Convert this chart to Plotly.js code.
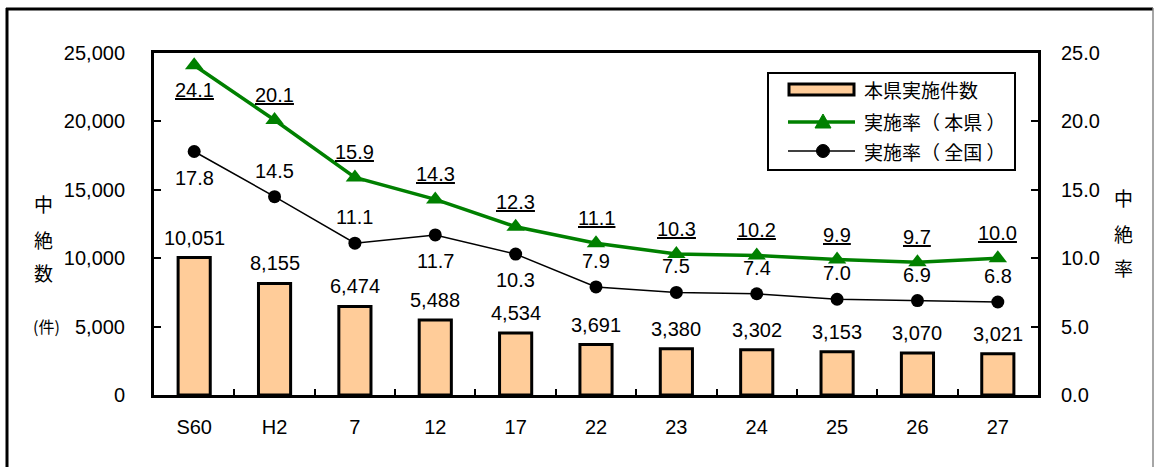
<!DOCTYPE html>
<html>
<head>
<meta charset="utf-8">
<script src="https://cdn.plot.ly/plotly-3.0.1.min.js"></script>
<style>html,body{margin:0;padding:0;background:#fff;}#chart{width:1154px;height:467px;}</style>
</head>
<body>
<div id="chart"></div>
<script>
// ---- data ----
const categories = ['S60','H2','7','12','17','22','23','24','25','26','27'];
const counts     = [10051, 8155, 6474, 5488, 4534, 3691, 3380, 3302, 3153, 3070, 3021];
const rateKen    = [24.1, 20.1, 15.9, 14.3, 12.3, 11.1, 10.3, 10.2, 9.9, 9.7, 10.0];
const rateZen    = [17.8, 14.5, 11.1, 11.7, 10.3, 7.9, 7.5, 7.4, 7.0, 6.9, 6.8];
const seriesNames = ['本県実施件数', '実施率（本県）', '実施率（全国）'];
const countTicks = [0, 5000, 10000, 15000, 20000, 25000];
const rateTicks  = [0, 5, 10, 15, 20, 25];

// label placement (style, not data): 1 = above, -1 = below
const kenLabelSide = [-1, 1, 1, 1, 1, 1, 1, 1, 1, 1, 1];
const zenLabelSide = [-1, 1, 1, -1, -1, 1, 1, 1, 1, 1, 1];

const FONT = 'Liberation Sans, Arial, "Noto Sans CJK JP", sans-serif';
const CJK = '"Noto Sans CJK JP", sans-serif';
const GREEN = '#008000';
const PEACH = '#FFCC99';

// plot area in pixels
const W = 1154, H = 467;
const L = 154, R = 1038, T = 53, B = 395;
const px = x => (x - L) / (R - L);
const py = y => (B - y) / (B - T);

const traces = [
  {
    type: 'bar', x: categories, y: counts, name: seriesNames[0],
    width: 0.4,
    marker: {color: PEACH, line: {color: '#000', width: 3}},
    hoverinfo: 'x+y', showlegend: false
  },
  {
    type: 'scatter', mode: 'lines+markers', x: categories, y: rateKen, yaxis: 'y2',
    name: seriesNames[1],
    line: {color: GREEN, width: 3.5},
    marker: {symbol: 'triangle-up', size: 16, color: GREEN},
    showlegend: false
  },
  {
    type: 'scatter', mode: 'lines+markers', x: categories, y: rateZen, yaxis: 'y2',
    name: seriesNames[2],
    line: {color: '#000', width: 1.5},
    marker: {symbol: 'circle', size: 13, color: '#000'},
    showlegend: false
  }
];

const annotations = [];
const lblFont = {family: FONT, size: 20, color: '#000'};
categories.forEach((c, i) => {
  annotations.push({
    x: i, y: counts[i], xref: 'x', yref: 'y',
    text: counts[i].toLocaleString('en-US'),
    showarrow: false, yanchor: 'middle', yshift: 20, font: lblFont
  });
  annotations.push({
    x: i, y: rateKen[i], xref: 'x', yref: 'y2',
    text: '<u>' + rateKen[i].toFixed(1) + '</u>',
    showarrow: false, yanchor: 'middle', yshift: 25 * kenLabelSide[i], font: lblFont
  });
  annotations.push({
    x: i, y: rateZen[i], xref: 'x', yref: 'y2',
    text: rateZen[i].toFixed(1),
    showarrow: false, yanchor: 'middle', yshift: 26 * zenLabelSide[i], font: lblFont
  });
});

// axis titles (vertical stacked characters)
const titleFont = {family: CJK, size: 19, color: '#000'};
[['中', 203], ['絶', 239], ['数', 272]].forEach(([ch, y]) => {
  annotations.push({x: px(43), y: py(y), xref: 'paper', yref: 'paper', text: ch,
    showarrow: false, xanchor: 'center', yanchor: 'middle', font: titleFont});
});
annotations.push({x: px(46), y: py(326), xref: 'paper', yref: 'paper', text: '(件)',
  showarrow: false, xanchor: 'center', yanchor: 'middle',
  font: {family: CJK, size: 16, color: '#000'}});
[['中', 198], ['絶', 233], ['率', 267]].forEach(([ch, y]) => {
  annotations.push({x: px(1123), y: py(y), xref: 'paper', yref: 'paper', text: ch,
    showarrow: false, xanchor: 'center', yanchor: 'middle', font: titleFont});
});

// custom legend text
const legRows = [89, 122, 151];
seriesNames.forEach((n, i) => {
  annotations.push({x: px(862), y: py(legRows[i]), xref: 'paper', yref: 'paper',
    text: n.replace('（', '（ ').replace('）', ' ）'),
    showarrow: false, xanchor: 'left', yanchor: 'middle',
    font: {family: CJK, size: 19, color: '#000'}});
});

const shapes = [
  // outer frame
  {type: 'line', xref: 'paper', yref: 'paper', x0: px(6), x1: px(1153), y0: py(9), y1: py(9), line: {color: '#000', width: 3}},
  {type: 'line', xref: 'paper', yref: 'paper', x0: px(7), x1: px(7), y0: py(8), y1: py(480), line: {color: '#000', width: 3}},
  {type: 'line', xref: 'paper', yref: 'paper', x0: px(1153), x1: px(1153), y0: py(8), y1: py(480), line: {color: '#888', width: 1.5}},
  // legend box
  {type: 'rect', xref: 'paper', yref: 'paper', x0: px(768), x1: px(1015), y0: py(73), y1: py(170),
    line: {color: '#000', width: 2}, fillcolor: '#fff'},
  // legend bar symbol
  {type: 'rect', xref: 'paper', yref: 'paper', x0: px(789), x1: px(854), y0: py(84), y1: py(95),
    line: {color: '#000', width: 3}, fillcolor: PEACH},
  // green line symbol
  {type: 'line', xref: 'paper', yref: 'paper', x0: px(788), x1: px(855), y0: py(122), y1: py(122),
    line: {color: GREEN, width: 3.5}},
  {type: 'path', xref: 'paper', yref: 'paper',
    path: `M${px(823)},${py(114)} L${px(831)},${py(128)} L${px(815)},${py(128)} Z`,
    line: {color: GREEN, width: 1}, fillcolor: GREEN},
  // black line symbol
  {type: 'line', xref: 'paper', yref: 'paper', x0: px(788), x1: px(855), y0: py(151), y1: py(151),
    line: {color: '#000', width: 1.5}},
  {type: 'circle', xref: 'paper', yref: 'paper', x0: px(816.5), x1: px(829.5), y0: py(144.5), y1: py(157.5),
    line: {color: '#000', width: 1}, fillcolor: '#000'}
];

const axisCommon = {
  showline: true, linecolor: '#000', linewidth: 3, mirror: true,
  ticks: 'inside', tickcolor: '#000', tickwidth: 2, ticklen: 7,
  showgrid: false, zeroline: false,
  tickfont: {family: FONT, size: 20, color: '#000'}
};

const layout = {
  width: W, height: H,
  margin: {l: L, r: W - R, t: T, b: H - B, pad: 0},
  paper_bgcolor: '#fff', plot_bgcolor: '#fff',
  showlegend: false,
  xaxis: Object.assign({}, axisCommon, {
    type: 'category', tickson: 'boundaries', ticklen: 6, ticklabelstandoff: 12,
    range: [-0.5, categories.length - 0.5], tickangle: 0
  }),
  yaxis: Object.assign({}, axisCommon, {
    range: [0, 25000], tickvals: countTicks, ticktext: countTicks.map(v => v.toLocaleString('en-US')),
    ticklabelstandoff: 22
  }),
  yaxis2: Object.assign({}, axisCommon, {
    overlaying: 'y', side: 'right', range: [0, 25], tickvals: rateTicks,
    ticktext: rateTicks.map(v => v.toFixed(1)), ticklabelstandoff: 16, mirror: false
  }),
  annotations: annotations,
  shapes: shapes
};

Plotly.newPlot('chart', traces, layout, {staticPlot: true, displayModeBar: false});
</script>
</body>
</html>
